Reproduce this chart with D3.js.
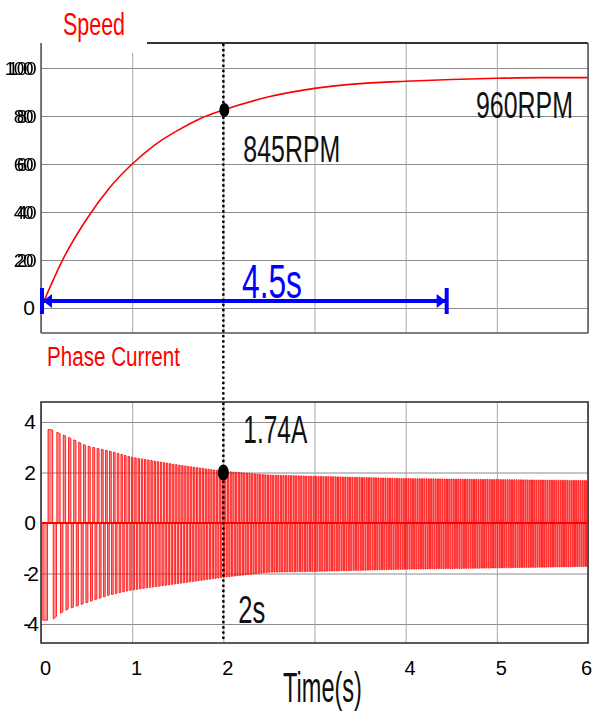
<!DOCTYPE html>
<html>
<head>
<meta charset="utf-8">
<script src="https://cdnjs.cloudflare.com/ajax/libs/d3/7.8.5/d3.min.js"></script>
<style>
    body { margin: 0; background: #fff; }
    text { font-family: "Liberation Sans", Arial, sans-serif; }
</style>
</head>
<body>
<div id="chart"></div>
<script>
// speed trace (value shown on a 0..100 scale, i.e. RPM / 10)
var speedTime  = [0, 0.25, 0.5, 0.75, 1, 1.25, 1.5, 1.75, 2, 2.5, 3, 3.5, 4, 4.5, 5, 5.5, 6];
var speedValue = [0, 21, 37, 50, 60, 68, 74, 79, 82.5, 88, 91.5, 93.5, 94.5, 95.2, 95.7, 96, 96];

// phase current envelope (A)
var envTime  = [0, 0.12, 0.2, 0.3, 0.5, 0.75, 1, 1.5, 2, 2.5, 3, 4, 5, 6];
var envUpper = [3.7, 3.7, 3.55, 3.4, 3.05, 2.85, 2.6, 2.3, 2.05, 1.9, 1.85, 1.76, 1.72, 1.68];
var envLower = [-3.85, -3.85, -3.6, -3.4, -3.15, -2.85, -2.65, -2.4, -2.15, -1.95, -1.92, -1.83, -1.78, -1.72];

var periodTime = [0, 0.2, 0.5, 1, 2, 3, 4, 6];
var periodSec  = [0.12, 0.06, 0.05, 0.036, 0.03, 0.027, 0.025, 0.024];

// ticks
var timeTicks    = [0, 1, 2, 3, 4, 5, 6];
var timeLabels   = [0, 1, 2, 4, 5, 6];
var speedTicks   = [0, 20, 40, 60, 80, 100];
var currentTicks = [-4, -2, 0, 2, 4];

// markers
var markTime = 2;
var markSpeed = 82.5;
var markCurrent = 2.0;
var spanTime = [0, 4.45];

(function() {
    'use strict';

    var W = 592, H = 713;
    var left = 41, right = 588;
    var top1 = 43, bot1 = 333;
    var top2 = 402, bot2 = 643;

    var svg = d3.select('#chart').append('svg')
        .attr('width', W)
        .attr('height', H);

    // doubled print of the speed tick labels
    var defs = svg.append('defs');
    var dbl = defs.append('filter')
        .attr('id', 'dbl')
        .attr('x', '-50%').attr('width', '200%');
    dbl.append('feOffset').attr('in', 'SourceGraphic').attr('dx', -3).attr('dy', 0).attr('result', 'o');
    var merge = dbl.append('feMerge');
    merge.append('feMergeNode').attr('in', 'o');
    merge.append('feMergeNode').attr('in', 'SourceGraphic');

    var x = d3.scaleLinear().domain([0, 6]).range([left, right]);
    var ySpeed = d3.scaleLinear().domain([0, 100]).range([308, 68]);
    var yCur = d3.scaleLinear().domain([-4, 4]).range([624, 422]);

    var upper = d3.scaleLinear().domain(envTime).range(envUpper).clamp(true);
    var lower = d3.scaleLinear().domain(envTime).range(envLower).clamp(true);
    var period = d3.scaleLinear().domain(periodTime).range(periodSec).clamp(true);

    // grid helper
    function grid(g, yScale, yTicks, y0, y1) {
        g.append('g')
            .attr('transform', 'translate(' + left + ',0)')
            .call(d3.axisLeft(yScale).tickValues(yTicks).tickSize(-(right - left)).tickFormat(''))
            .call(function(s) {
                s.select('.domain').remove();
                s.selectAll('line').attr('stroke', '#8c8c8c').attr('stroke-width', 1.2);
            });
        g.append('g')
            .attr('transform', 'translate(0,' + y1 + ')')
            .call(d3.axisBottom(x).tickValues(timeTicks).tickSize(-(y1 - y0)).tickFormat(''))
            .call(function(s) {
                s.select('.domain').remove();
                s.selectAll('line').attr('stroke', '#a8a8a8').attr('stroke-width', 1);
            });
    }

    // ---- top panel: speed ----
    var g1 = svg.append('g');
    grid(g1, ySpeed, speedTicks, top1, bot1);

    // title box hides the top-left corner of the frame
    g1.append('rect')
        .attr('x', left + 1).attr('y', 0)
        .attr('width', 105).attr('height', 53)
        .attr('fill', '#fff');

    g1.append('line')
        .attr('x1', 147).attr('x2', right)
        .attr('y1', top1).attr('y2', top1)
        .attr('stroke', '#333').attr('stroke-width', 2);
    g1.append('line')
        .attr('x1', left).attr('x2', right)
        .attr('y1', bot1).attr('y2', bot1)
        .attr('stroke', '#555').attr('stroke-width', 1.5);
    g1.append('line')
        .attr('x1', right).attr('x2', right)
        .attr('y1', top1).attr('y2', bot1)
        .attr('stroke', '#555').attr('stroke-width', 1.5);
    g1.append('line')
        .attr('x1', left).attr('x2', left)
        .attr('y1', top1).attr('y2', bot1)
        .attr('stroke', '#555').attr('stroke-width', 1.5);

    g1.append('g')
        .attr('transform', 'translate(' + left + ',0)')
        .call(d3.axisLeft(ySpeed).tickValues(speedTicks).tickSize(0).tickPadding(6))
        .call(function(s) {
            s.select('.domain').remove();
            s.selectAll('text')
                .attr('fill', '#000')
                .attr('filter', function(d) { return d === 0 ? null : 'url(#dbl)'; })
                .style('font-size', function(d) { return d === 0 ? '21px' : '19px'; })
                .style('letter-spacing', function(d) { return d === 0 ? '0px' : '-1.5px'; });
        });

    var speedData = speedTime.map(function(t, i) { return [t, speedValue[i]]; });
    g1.append('path')
        .datum(speedData)
        .attr('fill', 'none')
        .attr('stroke', '#ff0000')
        .attr('stroke-width', 1.6)
        .attr('d', d3.line()
            .x(function(d) { return x(d[0]); })
            .y(function(d) { return ySpeed(d[1]); })
            .curve(d3.curveMonotoneX));

    // 4.5s span arrow
    var ya = 301;
    var xa0 = x(spanTime[0]) + 1, xa1 = x(spanTime[1]);
    g1.append('line')
        .attr('x1', xa0).attr('x2', xa1)
        .attr('y1', ya).attr('y2', ya)
        .attr('stroke', '#0000ff').attr('stroke-width', 4);
    [xa0, xa1].forEach(function(xx) {
        g1.append('line')
            .attr('x1', xx).attr('x2', xx)
            .attr('y1', ya - 13).attr('y2', ya + 13)
            .attr('stroke', '#0000ff').attr('stroke-width', 4);
    });
    g1.append('path')
        .attr('fill', '#0000ff')
        .attr('d', 'M' + (xa0 + 1) + ',' + ya + 'L' + (xa0 + 10) + ',' + (ya - 7) + 'L' + (xa0 + 10) + ',' + (ya + 7) + 'Z');
    g1.append('path')
        .attr('fill', '#0000ff')
        .attr('d', 'M' + (xa1 - 1) + ',' + ya + 'L' + (xa1 - 10) + ',' + (ya - 7) + 'L' + (xa1 - 10) + ',' + (ya + 7) + 'Z');

    // ---- bottom panel: phase current ----
    var g2 = svg.append('g');
    grid(g2, yCur, currentTicks, top2, bot2);

    g2.append('rect')
        .attr('x', left).attr('y', top2)
        .attr('width', right - left).attr('height', bot2 - top2)
        .attr('fill', 'none')
        .attr('stroke', '#333').attr('stroke-width', 1.6);

    g2.append('g')
        .attr('transform', 'translate(' + left + ',0)')
        .call(d3.axisLeft(yCur).tickValues(currentTicks).tickSize(0).tickPadding(5))
        .call(function(s) {
            s.select('.domain').remove();
            s.selectAll('text')
                .attr('fill', '#000')
                .style('font-size', '21px')
                .style('letter-spacing', function(d) { return d < 0 ? '-3px' : '0px'; })
                .text(function(d) { return d < 0 ? '-' + (-d) : d; });
        });

    defs.append('clipPath')
        .attr('id', 'clip2')
        .append('rect')
        .attr('x', left).attr('y', top2)
        .attr('width', right - left).attr('height', bot2 - top2);

    // pulse train: down pulse then up pulse in every period
    var p = d3.path();
    var y0 = yCur(0);
    var t = 0.02;
    p.moveTo(x(0), y0);
    while (t < 6) {
        var P = period(t);
        var a = t, b = t + 0.45 * P;
        var c = t + 0.5 * P, e = Math.min(t + 0.95 * P, 6);
        p.lineTo(x(a), y0);
        p.lineTo(x(a), yCur(lower(a)));
        p.lineTo(x(b), yCur(lower(b)));
        p.lineTo(x(b), y0);
        if (c < 6) {
            p.lineTo(x(c), y0);
            p.lineTo(x(c), yCur(upper(c)));
            p.lineTo(x(e), yCur(upper(e)));
            p.lineTo(x(e), y0);
        }
        t += P;
    }
    p.lineTo(x(6), y0);
    p.closePath();

    var wave = g2.append('g').attr('clip-path', 'url(#clip2)');
    wave.append('path')
        .attr('d', p.toString())
        .attr('fill', 'rgba(255,40,40,0.55)')
        .attr('stroke', '#ff0000')
        .attr('stroke-width', 0.8);
    wave.append('line')
        .attr('x1', x(0)).attr('x2', x(6))
        .attr('y1', y0).attr('y2', y0)
        .attr('stroke', '#ff0000').attr('stroke-width', 2);

    // time axis labels (the last one sits at the page edge)
    svg.append('g')
        .attr('transform', 'translate(4,' + (bot2 + 10) + ')')
        .call(d3.axisBottom(x).tickValues(timeLabels).tickSize(0).tickPadding(8).tickFormat(d3.format('d')))
        .call(function(s) {
            s.select('.domain').remove();
            s.selectAll('text').attr('fill', '#000').style('font-size', '20px');
            s.selectAll('.tick').filter(function(d) { return d === 6; })
                .select('text').attr('dx', -6);
        });

    // ---- marker line and dots ----
    svg.append('line')
        .attr('x1', x(markTime)).attr('x2', x(markTime))
        .attr('y1', top1 + 2).attr('y2', bot2 - 2)
        .attr('stroke', '#000')
        .attr('stroke-width', 2.8)
        .attr('stroke-linecap', 'round')
        .attr('stroke-dasharray', '0,5.2');

    svg.append('ellipse')
        .attr('cx', x(markTime) + 1).attr('cy', ySpeed(markSpeed))
        .attr('rx', 5).attr('ry', 7)
        .attr('fill', '#000');
    svg.append('ellipse')
        .attr('cx', x(markTime)).attr('cy', yCur(markCurrent))
        .attr('rx', 5.5).attr('ry', 8)
        .attr('fill', '#000');

    // ---- texts: condensed by squeezing the natural width to the target ----
    function label(txt, px, py, size, len, color) {
        var el = svg.append('text')
            .attr('x', 0).attr('y', 0)
            .attr('fill', color || '#111')
            .style('font-size', size + 'px')
            .text(txt);
        var w = el.node().getComputedTextLength();
        el.attr('transform', 'translate(' + px + ',' + py + ') scale(' + (len / w) + ',1)');
    }

    label('Speed', 63, 35, 31, 62, '#ff0000');
    label('Phase Current', 47, 366, 28, 133, '#ff0000');
    label('845RPM', x(markTime) + 20, 162, 36, 97);
    label('960RPM', 476, 118, 36, 97);
    label('4.5s', 242, 298, 48, 60, '#0000ff');
    label('1.74A', x(markTime) + 20, 443, 38, 64);
    label('2s', x(markTime) + 15, 623, 38, 27);
    label('Time(s)', 283, 702, 43, 79);
})();
</script>
</body>
</html>
